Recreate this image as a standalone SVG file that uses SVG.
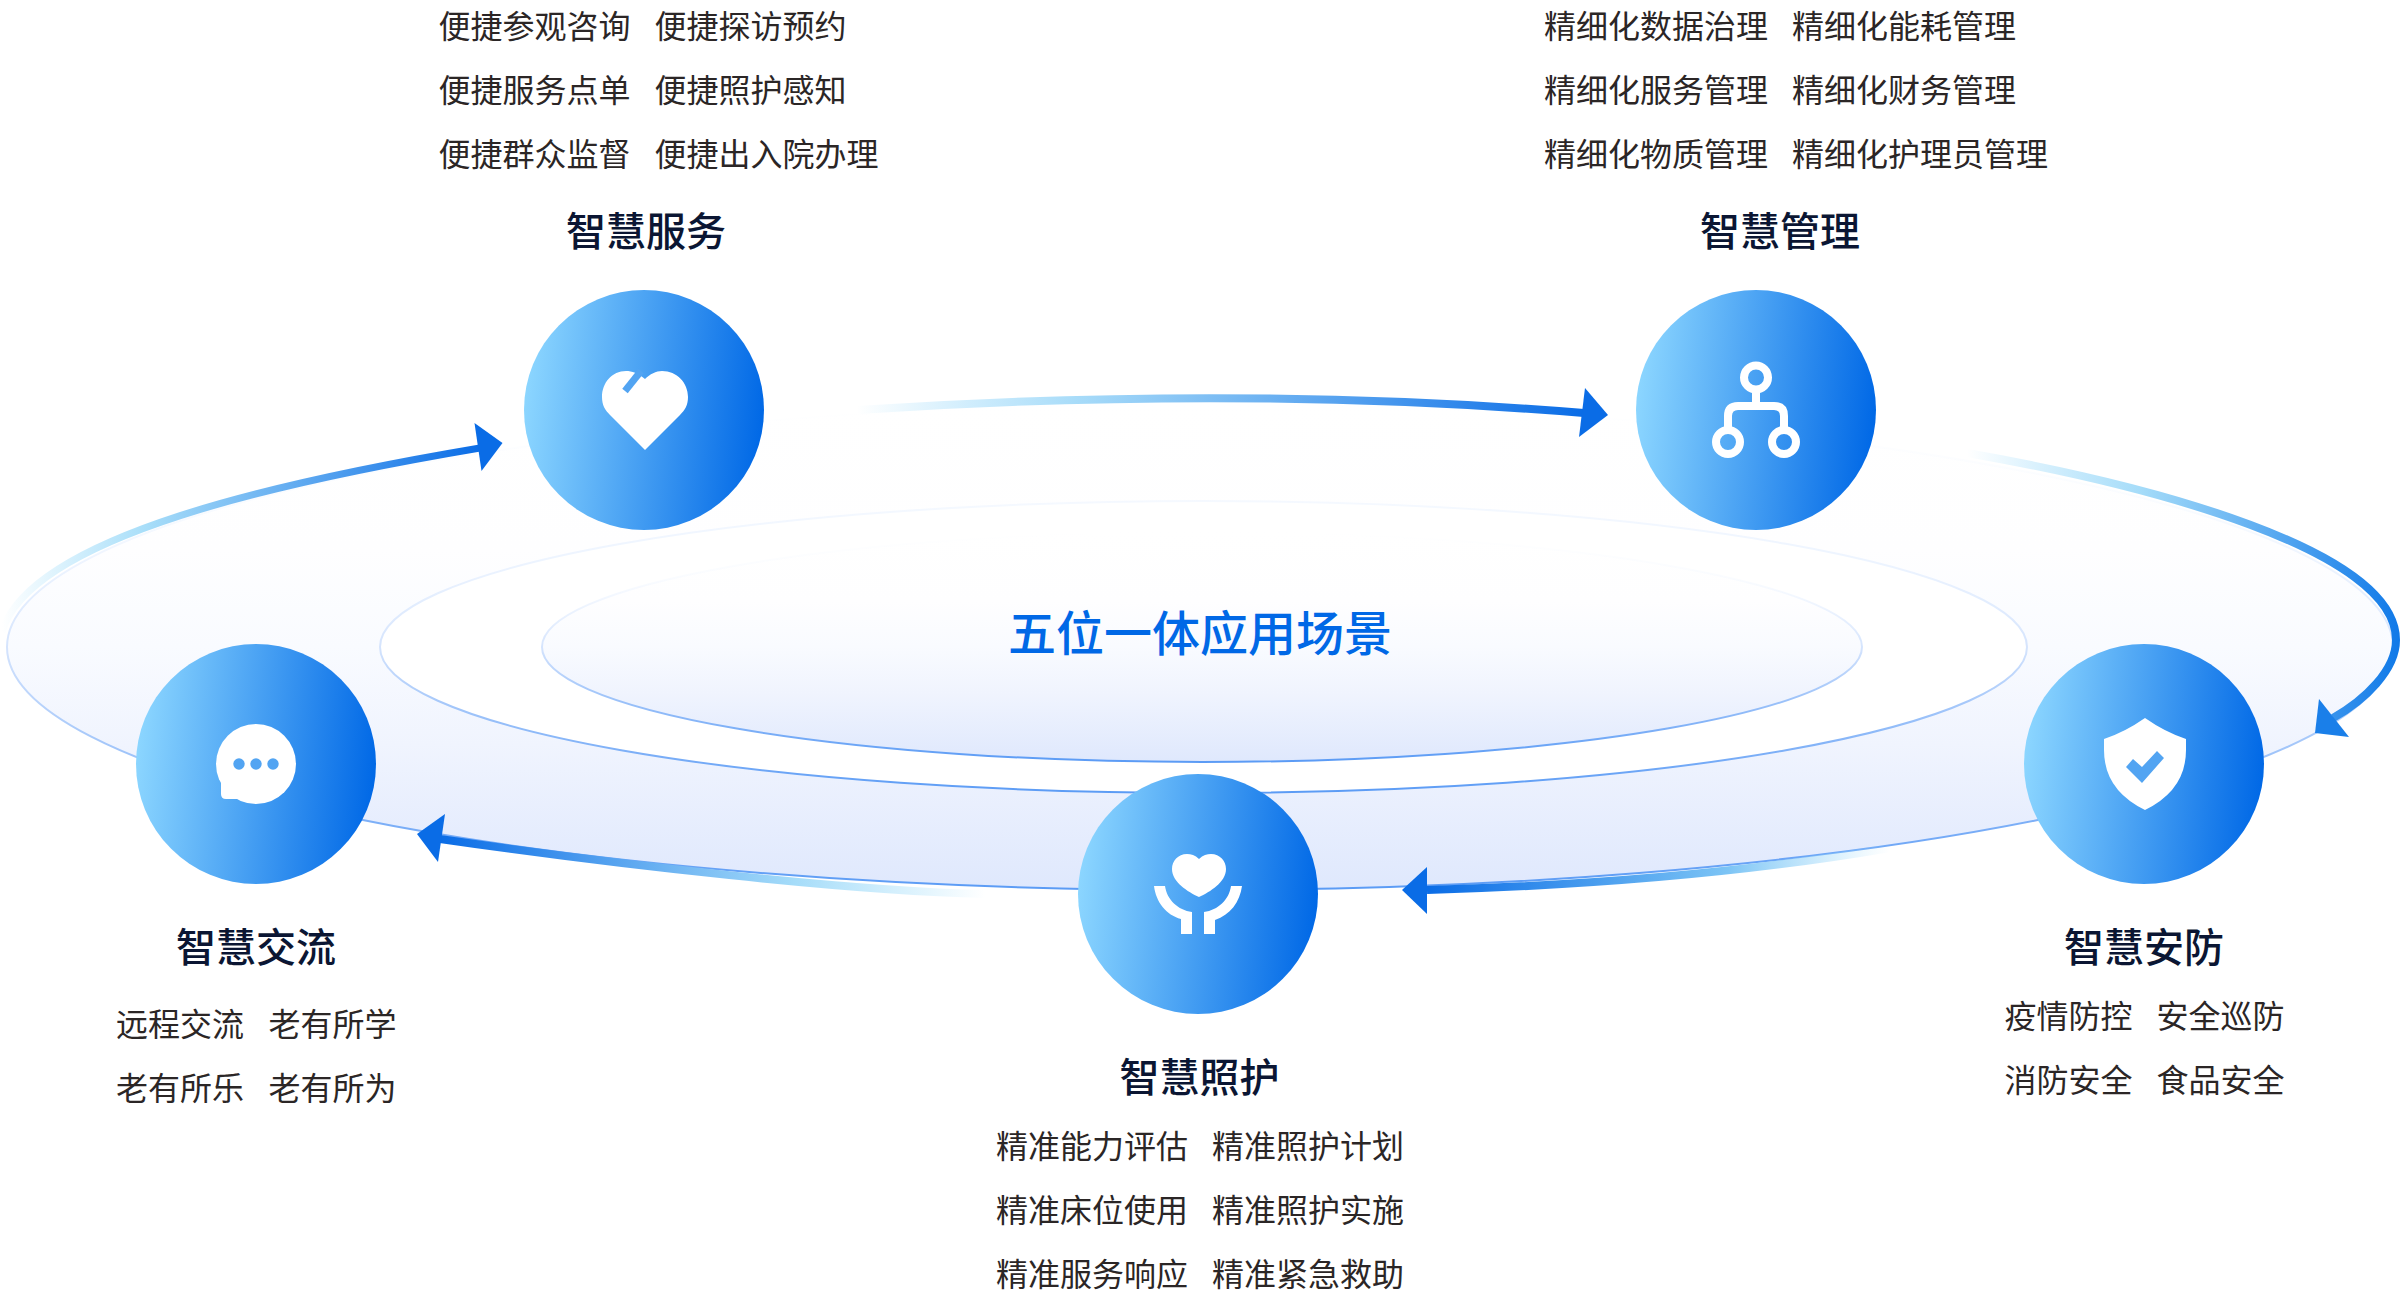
<svg xmlns="http://www.w3.org/2000/svg" width="2400" height="1296" viewBox="0 0 2400 1296">
<style>
text{font-family:"Noto Sans CJK SC","Noto Sans",sans-serif}
.t{font-size:40px;font-weight:500;fill:#0b1633;text-anchor:middle}
.b{font-size:32px;fill:#2b2626}
.disc{fill:url(#disc)}
.w{fill:#fff}
.k{fill:#52a4f2}
.ring{stroke-width:2}
</style>
<defs>
<linearGradient id="disc" x1="0" y1="0.45" x2="1" y2="0.55"><stop offset="0" stop-color="#8cd6ff"/><stop offset="1" stop-color="#0068e6"/></linearGradient>
<linearGradient id="f1" x1="0" y1="0" x2="0" y2="1"><stop offset="0" stop-color="#fff"/><stop offset="0.3" stop-color="#fefeff"/><stop offset="0.5" stop-color="#f9fbff"/><stop offset="0.7" stop-color="#f0f4fe"/><stop offset="1" stop-color="#dfe8fd"/></linearGradient>
<linearGradient id="s0" x1="0" y1="0" x2="0" y2="1"><stop offset="0" stop-color="#e6f0ff" stop-opacity="0"/><stop offset="0.2" stop-color="#e6f0ff" stop-opacity="0.2"/><stop offset="0.5" stop-color="#d5e4fd"/><stop offset="1" stop-color="#5b9bf5"/></linearGradient>
<linearGradient id="s1" x1="0" y1="0" x2="0" y2="1"><stop offset="0" stop-color="#e6f0ff" stop-opacity="0.4"/><stop offset="0.2" stop-color="#e6f0ff" stop-opacity="0.7"/><stop offset="0.5" stop-color="#d5e4fd"/><stop offset="1" stop-color="#5b9bf5"/></linearGradient>
<linearGradient id="g1" gradientUnits="userSpaceOnUse" x1="857" y1="0" x2="1584" y2="0"><stop offset="0" stop-color="#9fdcfb" stop-opacity="0"/><stop offset="0.3" stop-color="#a8dcf9"/><stop offset="1" stop-color="#0a6ce6"/></linearGradient>
<linearGradient id="g2" gradientUnits="userSpaceOnUse" x1="1967" y1="0" x2="2400" y2="0"><stop offset="0" stop-color="#9fdcfb" stop-opacity="0"/><stop offset="0.4" stop-color="#a5dcf9"/><stop offset="1" stop-color="#1079e8"/></linearGradient>
<linearGradient id="g3" gradientUnits="userSpaceOnUse" x1="1890" y1="0" x2="1427" y2="0"><stop offset="0" stop-color="#9fdcfb" stop-opacity="0"/><stop offset="0.35" stop-color="#7cc4f5"/><stop offset="1" stop-color="#0a6ce6"/></linearGradient>
<linearGradient id="g4" gradientUnits="userSpaceOnUse" x1="985" y1="0" x2="440" y2="0"><stop offset="0" stop-color="#a5e0fb" stop-opacity="0"/><stop offset="0.35" stop-color="#a5dcf9"/><stop offset="1" stop-color="#0a6ce6"/></linearGradient>
<linearGradient id="g5" gradientUnits="userSpaceOnUse" x1="2" y1="0" x2="480" y2="0"><stop offset="0" stop-color="#a5e0fb" stop-opacity="0"/><stop offset="0.3" stop-color="#a8def9"/><stop offset="1" stop-color="#0a6ce6"/></linearGradient>
</defs>

<g id="platform">
<ellipse class="ring" cx="1200" cy="647" rx="1193" ry="243" fill="url(#f1)" stroke="url(#s0)"/>
<ellipse class="ring" cx="1203.5" cy="647" rx="823.5" ry="146" fill="#fff" stroke="url(#s1)"/>
<ellipse class="ring" cx="1202" cy="647" rx="660" ry="115" fill="url(#f1)" stroke="url(#s0)"/>
<text x="1200" y="651" font-size="48" font-weight="500" text-anchor="middle" fill="#0068e6">五位一体应用场景</text>
</g>

<g id="connectors" fill="none" stroke-width="8">
<path d="M985 894C850 891 620 865 440 839" stroke="url(#g4)"/>
<polygon points="417,834 445,814 438,862" fill="#0a6ce6"/>
<path d="M857 410 Q1240 385 1584 413" stroke="url(#g1)"/>
<polygon points="1585,388 1608,415 1579,437" fill="#0a6ce6"/>
<path d="M1967 453 C2150 485 2396 550 2396 640 C2396 670 2365 700 2333 718" stroke="url(#g2)"/>
<polygon points="2319,699 2349,737 2315,733" fill="#1a7fe9"/>
<path d="M1890 848 C1750 872 1600 885 1427 890" stroke="url(#g3)"/>
<polygon points="1402,890 1427,867 1427,914" fill="#0a6ce6"/>
<path d="M2 632 C30 535 290 480 480 448" stroke="url(#g5)" stroke-width="7"/>
<polygon points="474.5,423 502.5,443 481.5,471" fill="#0a6ce6"/>
</g>

<g id="node-service">
<circle class="disc" cx="644" cy="410" r="120"/>
<path class="w" d="M645 379C638 373 632 371 626 371C612 371 602 383 602 397C602 405 605 410 610 415L645 450L680 415C685 410 688 405 688 397C688 383 677 371 662 371C656 371 650 374 645 379Z"/>
<path d="M641 371L625 391" stroke="#52a4f2" stroke-width="7" fill="none"/>
<text class="t" x="646" y="246">智慧服务</text>
<text class="b" x="438.5" y="38">便捷参观咨询</text><text class="b" x="654.5" y="38">便捷探访预约</text>
<text class="b" x="438.5" y="102">便捷服务点单</text><text class="b" x="654.5" y="102">便捷照护感知</text>
<text class="b" x="438.5" y="166">便捷群众监督</text><text class="b" x="654.5" y="166">便捷出入院办理</text>
</g>

<g id="node-management">
<circle class="disc" cx="1756" cy="410" r="120"/>
<g fill="none" stroke="#fff" stroke-width="8">
<circle cx="1756" cy="377.5" r="12"/><circle cx="1728" cy="442" r="12"/><circle cx="1784" cy="442" r="12"/>
<path d="M1756 390V406M1728 430V416Q1728 406 1738 406H1774Q1784 406 1784 416V430"/>
</g>
<text class="t" x="1780" y="246">智慧管理</text>
<text class="b" x="1544" y="38">精细化数据治理</text><text class="b" x="1792" y="38">精细化能耗管理</text>
<text class="b" x="1544" y="102">精细化服务管理</text><text class="b" x="1792" y="102">精细化财务管理</text>
<text class="b" x="1544" y="166">精细化物质管理</text><text class="b" x="1792" y="166">精细化护理员管理</text>
</g>

<g id="node-security">
<circle class="disc" cx="2144" cy="764" r="120"/>
<path class="w" d="M2145 718Q2125 732 2104 739V750Q2104 790 2145 810Q2186 790 2186 750V739Q2165 732 2145 718Z"/>
<path class="k" d="M2126 767L2142 783L2164 758L2157 751L2142 767L2133 759Z"/>
<text class="t" x="2144" y="962">智慧安防</text>
<text class="b" x="2004.5" y="1028">疫情防控</text><text class="b" x="2156.5" y="1028">安全巡防</text>
<text class="b" x="2004.5" y="1092">消防安全</text><text class="b" x="2156.5" y="1092">食品安全</text>
</g>

<g id="node-care">
<circle class="disc" cx="1198" cy="894" r="120"/>
<path class="w" d="M1199 859C1195 855 1191 854 1187 854C1178 854 1172 861 1172 869C1172 882 1188 892 1199 897C1210 892 1226 882 1226 869C1226 861 1220 854 1211 854C1207 854 1203 855 1199 859Z"/>
<path class="w" d="M1154 886H1165C1167 900 1178 910 1192 912V934H1181V919C1166 915 1156 902 1154 886Z"/>
<path class="w" d="M1242 886H1231C1229 900 1218 910 1204 912V934H1215V920C1230 915 1240 902 1242 886Z"/>
<text class="t" x="1199.5" y="1092">智慧照护</text>
<text class="b" x="996" y="1158">精准能力评估</text><text class="b" x="1212" y="1158">精准照护计划</text>
<text class="b" x="996" y="1222">精准床位使用</text><text class="b" x="1212" y="1222">精准照护实施</text>
<text class="b" x="996" y="1286">精准服务响应</text><text class="b" x="1212" y="1286">精准紧急救助</text>
</g>

<g id="node-exchange">
<circle class="disc" cx="256" cy="764" r="120"/>
<circle class="w" cx="256" cy="764" r="40"/>
<path class="w" d="M221 775V794Q221 799 226 799H245V780Z"/>
<circle class="k" cx="239" cy="764" r="5.7"/><circle class="k" cx="256" cy="764" r="5.7"/><circle class="k" cx="273" cy="764" r="5.7"/>
<text class="t" x="256" y="962">智慧交流</text>
<text class="b" x="116" y="1036">远程交流</text><text class="b" x="268.5" y="1036">老有所学</text>
<text class="b" x="116" y="1100">老有所乐</text><text class="b" x="268.5" y="1100">老有所为</text>
</g>
</svg>
